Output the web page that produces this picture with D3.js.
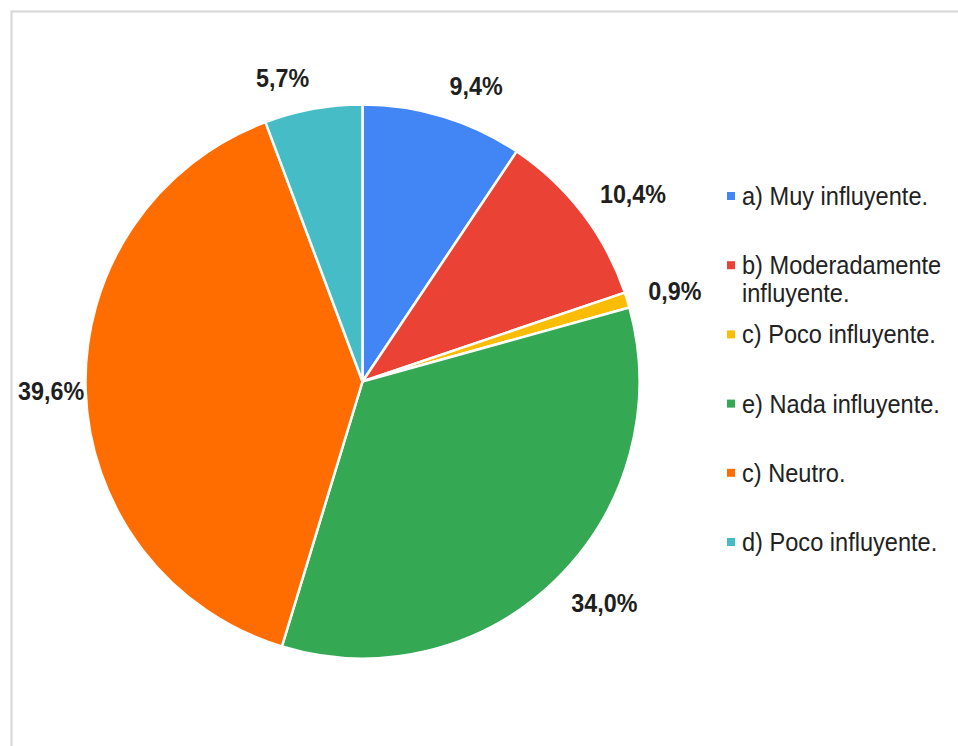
<!DOCTYPE html>
<html>
<head>
<meta charset="utf-8">
<script src="https://cdn.jsdelivr.net/npm/d3@7"></script>
<style>
  html, body { margin: 0; padding: 0; background: #fff; }
  svg { display: block; font-family: "Liberation Sans", Arial, sans-serif; }
</style>
</head>
<body>
<svg id="chart" width="958" height="746"></svg>
<script>
// Survey answers and their shares (percent)
const categories = [
  "a) Muy influyente.",
  "b) Moderadamente influyente.",
  "c) Poco influyente.",
  "e) Nada influyente.",
  "c) Neutro.",
  "d) Poco influyente."
];
const values = [9.4, 10.4, 0.9, 34.0, 39.6, 5.7];
const valueLabels = ["9,4%", "10,4%", "0,9%", "34,0%", "39,6%", "5,7%"];
const colors = ["#4285F4", "#EA4335", "#FBBC04", "#34A853", "#FF6D01", "#46BDC6"];

const W = 958, H = 746;
const svg = d3.select("#chart");

// Outer frame (runs past the right and bottom edges of the page)
svg.append("rect")
  .attr("x", 11.5).attr("y", 11.5)
  .attr("width", W + 20).attr("height", H + 20)
  .attr("fill", "none")
  .attr("stroke", "#d9d9d9")
  .attr("stroke-width", 2.2);

const cx = 362.5, cy = 381.5, r = 277;
const g = svg.append("g").attr("transform", `translate(${cx},${cy})`);

const data = categories.map((c, i) => ({ name: c, value: values[i], label: valueLabels[i], color: colors[i] }));

const pie = d3.pie().value(d => d.value).sort(null);
const arc = d3.arc().innerRadius(0).outerRadius(r);
const arcs = pie(data);

g.selectAll("path.slice")
  .data(arcs)
  .join("path")
  .attr("class", "slice")
  .attr("d", arc)
  .attr("fill", d => d.data.color)
  .attr("stroke", "#fff")
  .attr("stroke-width", 2.5)
  .attr("stroke-linejoin", "round");

// Value labels placed just outside each slice, pushed away from the pie
const labelGap = 22;
const frameInner = 18;
const labelScaleX = 0.88;
const labels = g.selectAll("text.value")
  .data(arcs)
  .join("text")
  .attr("class", "value")
  .attr("font-size", 26.5)
  .attr("font-weight", "bold")
  .attr("fill", "#1f1f1f")
  .attr("text-anchor", "middle")
  .attr("dy", "0.35em")
  .text(d => d.data.label);

labels.each(function(d) {
  const a = (d.startAngle + d.endAngle) / 2;
  const w = this.getComputedTextLength() * labelScaleX;
  const h = 20;
  const R = r + labelGap;
  let x = Math.sin(a) * R + Math.sign(Math.sin(a)) * w / 2;
  let y = -Math.cos(a) * R - Math.cos(a) * h / 2;
  // keep the label inside the frame
  const minX = frameInner - cx + w / 2;
  if (x < minX) x = minX;
  d3.select(this).attr("transform", `translate(${x},${y}) scale(${labelScaleX},1)`);
});

// Legend
const legendX = 727, legendTextX = 742, legendY0 = 196, legendStep = 69.2;
const legendFont = 25.5, legendScaleX = 0.925, lineH = 27.6, maxW = 208;

const legend = svg.append("g");
const items = legend.selectAll("g.item")
  .data(data)
  .join("g")
  .attr("class", "item")
  .attr("transform", (d, i) => `translate(0,${legendY0 + i * legendStep})`);

items.append("rect")
  .attr("x", legendX).attr("y", -4)
  .attr("width", 8).attr("height", 8)
  .attr("fill", d => d.color);

items.append("text")
  .attr("transform", `translate(${legendTextX},0) scale(${legendScaleX},1)`)
  .attr("font-size", legendFont)
  .attr("fill", "#222")
  .each(function(d) {
    const t = d3.select(this);
    const words = d.name.split(" ");
    const limit = maxW / legendScaleX;
    let line = [];
    let tspan = t.append("tspan").attr("x", 0).attr("dy", "0.35em");
    words.forEach(wd => {
      line.push(wd);
      tspan.text(line.join(" "));
      if (tspan.node().getComputedTextLength() > limit && line.length > 1) {
        line.pop();
        tspan.text(line.join(" "));
        line = [wd];
        tspan = t.append("tspan").attr("x", 0).attr("dy", lineH).text(wd);
      }
    });
  });
</script>
</body>
</html>
